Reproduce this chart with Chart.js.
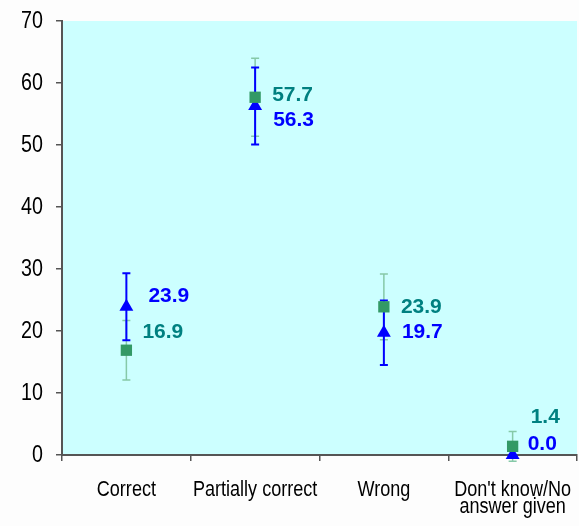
<!DOCTYPE html>
<html>
<head>
<meta charset="utf-8">
<script src="https://cdn.jsdelivr.net/npm/chart.js@4/dist/chart.umd.min.js"></script>
<style>
  html, body { margin: 0; padding: 0; background: #fdfdfd; }
  #wrap { width: 579px; height: 526px; }
</style>
</head>
<body>
<div id="wrap"><canvas id="chart" width="579" height="526"></canvas></div>
<script>
// Answer categories along the x axis
const categories = ['Correct', 'Partially correct', 'Wrong', ["Don't know/No", 'answer given']];

// Series shown with green squares, and its error half-widths
const greenValues = [16.9, 57.7, 23.9, 1.4];
const greenErrors = [4.8, 6.3, 5.3, 2.4];

// Series shown with blue triangles, and its error half-widths
const blueValues = [23.9, 56.3, 19.7, 0.0];
const blueErrors = [5.4, 6.2, 5.2, 0];

// Value axis ticks
const yTicks = [0, 10, 20, 30, 40, 50, 60, 70];

const textFont = "'Liberation Sans', Arial, sans-serif";

// Fills the plotting area with the pale cyan backdrop
const plotBackground = {
  id: 'plotBackground',
  beforeDraw(chart) {
    const { ctx, chartArea: a } = chart;
    ctx.save();
    ctx.fillStyle = '#ccffff';
    ctx.fillRect(a.left, a.top, a.right - a.left, a.bottom - a.top);
    ctx.restore();
  }
};

// Axis tick labels in a horizontally condensed face
const axisLabels = {
  id: 'axisLabels',
  afterDraw(chart, args, opts) {
    const { ctx } = chart;
    const sx = opts.condense;
    ctx.save();
    ctx.fillStyle = '#000000';

    // value axis
    const y = chart.scales.y;
    ctx.font = opts.ySize + 'px ' + textFont;
    ctx.textBaseline = 'middle';
    ctx.textAlign = 'right';
    y.ticks.forEach((t, i) => {
      const py = y.getPixelForTick(i);
      const rx = y.right - opts.yGap;
      ctx.save();
      ctx.translate(rx, py);
      ctx.scale(sx, 1);
      ctx.fillText(String(t.value), 0, 0);
      ctx.restore();
    });

    // category axis
    const x = chart.scales.x;
    ctx.font = opts.xSize + 'px ' + textFont;
    ctx.textBaseline = 'alphabetic';
    ctx.textAlign = 'center';
    chart.data.labels.forEach((lab, i) => {
      const px = x.getPixelForTick(i);
      const lines = Array.isArray(lab) ? lab : [lab];
      lines.forEach((line, j) => {
        ctx.save();
        ctx.translate(px, x.top + opts.xBaseline + j * opts.xLineGap);
        ctx.scale(sx, 1);
        ctx.fillText(line, 0, 0);
        ctx.restore();
      });
    });
    ctx.restore();
  }
};

// Vertical error bars with caps, computed through the y scale
const errorBars = {
  id: 'errorBars',
  beforeDatasetsDraw(chart) {
    const { ctx } = chart;
    const y = chart.scales.y;
    chart.data.datasets.forEach((ds, di) => {
      const meta = chart.getDatasetMeta(di);
      const st = ds.errorStyle;
      ctx.save();
      ctx.strokeStyle = st.color;
      ctx.lineWidth = st.width;
      ds.data.forEach((v, i) => {
        const e = ds.errors[i];
        if (!e) return;
        const x = meta.data[i].x;
        const yt = y.getPixelForValue(v + e);
        const yb = y.getPixelForValue(v - e);
        ctx.beginPath();
        ctx.moveTo(x, yt); ctx.lineTo(x, yb);
        ctx.moveTo(x - st.cap, yt); ctx.lineTo(x + st.cap, yt);
        ctx.moveTo(x - st.cap, yb); ctx.lineTo(x + st.cap, yb);
        ctx.stroke();
      });
      ctx.restore();
    });
  }
};

// Value labels beside each marker
const valueLabels = {
  id: 'valueLabels',
  afterDatasetsDraw(chart, args, opts) {
    const { ctx } = chart;
    chart.data.datasets.forEach((ds, di) => {
      const meta = chart.getDatasetMeta(di);
      const nudges = opts.nudges[di];
      ctx.save();
      ctx.font = 'bold 21px ' + textFont;
      ctx.fillStyle = ds.labelColor;
      ctx.textAlign = 'left';
      ctx.textBaseline = 'middle';
      ds.data.forEach((v, i) => {
        const p = meta.data[i];
        ctx.fillText(v.toFixed(1), p.x + nudges[i][0], p.y + nudges[i][1]);
      });
      ctx.restore();
    });
  }
};

new Chart(document.getElementById('chart'), {
  type: 'line',
  data: {
    labels: categories,
    datasets: [
      {
        data: greenValues,
        errors: greenErrors,
        errorStyle: { color: '#86c9a8', width: 1.5, cap: 4 },
        labelColor: '#008080',
        showLine: false,
        pointStyle: 'rect',
        pointRadius: 8,
        pointHoverRadius: 8,
        backgroundColor: '#339966',
        borderColor: '#339966',
        borderWidth: 0,
        clip: false
      },
      {
        data: blueValues,
        errors: blueErrors,
        errorStyle: { color: '#0000ff', width: 2, cap: 4 },
        labelColor: '#0000ff',
        showLine: false,
        pointStyle: 'triangle',
        pointRadius: 8,
        pointHoverRadius: 8,
        backgroundColor: '#0000ff',
        borderColor: '#0000ff',
        borderWidth: 0,
        clip: false
      }
    ]
  },
  options: {
    responsive: false,
    animation: false,
    devicePixelRatio: 1,
    layout: { autoPadding: false, padding: { top: 21, right: 2, left: 0, bottom: 0 } },
    plugins: {
      legend: { display: false },
      tooltip: { enabled: false },
      axisLabels: { condense: 0.82, ySize: 24, yGap: 19, xSize: 22, xBaseline: 41, xLineGap: 17 },
      valueLabels: {
        nudges: [
          [[16, -18], [17, -2], [17, 0], [18, -29]],
          [[22, -11], [18, 14], [18, -1], [15, -11]]
        ]
      }
    },
    scales: {
      x: {
        type: 'category',
        offset: true,
        grid: { offset: true, drawOnChartArea: false, drawTicks: true, tickLength: 6, color: '#555555', lineWidth: 1.5 },
        border: { color: '#555555', width: 2 },
        ticks: { display: false, autoSkip: false },
        afterFit(scale) {
          scale.height = 71;
          scale.paddingLeft = 0; scale.paddingRight = 0;
        }
      },
      y: {
        min: 0,
        max: 70,
        afterBuildTicks(scale) { scale.ticks = yTicks.map(v => ({ value: v })); },
        grid: { drawOnChartArea: false, drawTicks: true, tickLength: 6, color: '#555555', lineWidth: 1.5 },
        border: { color: '#555555', width: 2 },
        ticks: { display: false },
        afterFit(scale) {
          scale.width = 62;
          scale.paddingTop = 0; scale.paddingBottom = 0;
        }
      }
    }
  },
  plugins: [plotBackground, errorBars, valueLabels, axisLabels]
});
</script>
</body>
</html>
